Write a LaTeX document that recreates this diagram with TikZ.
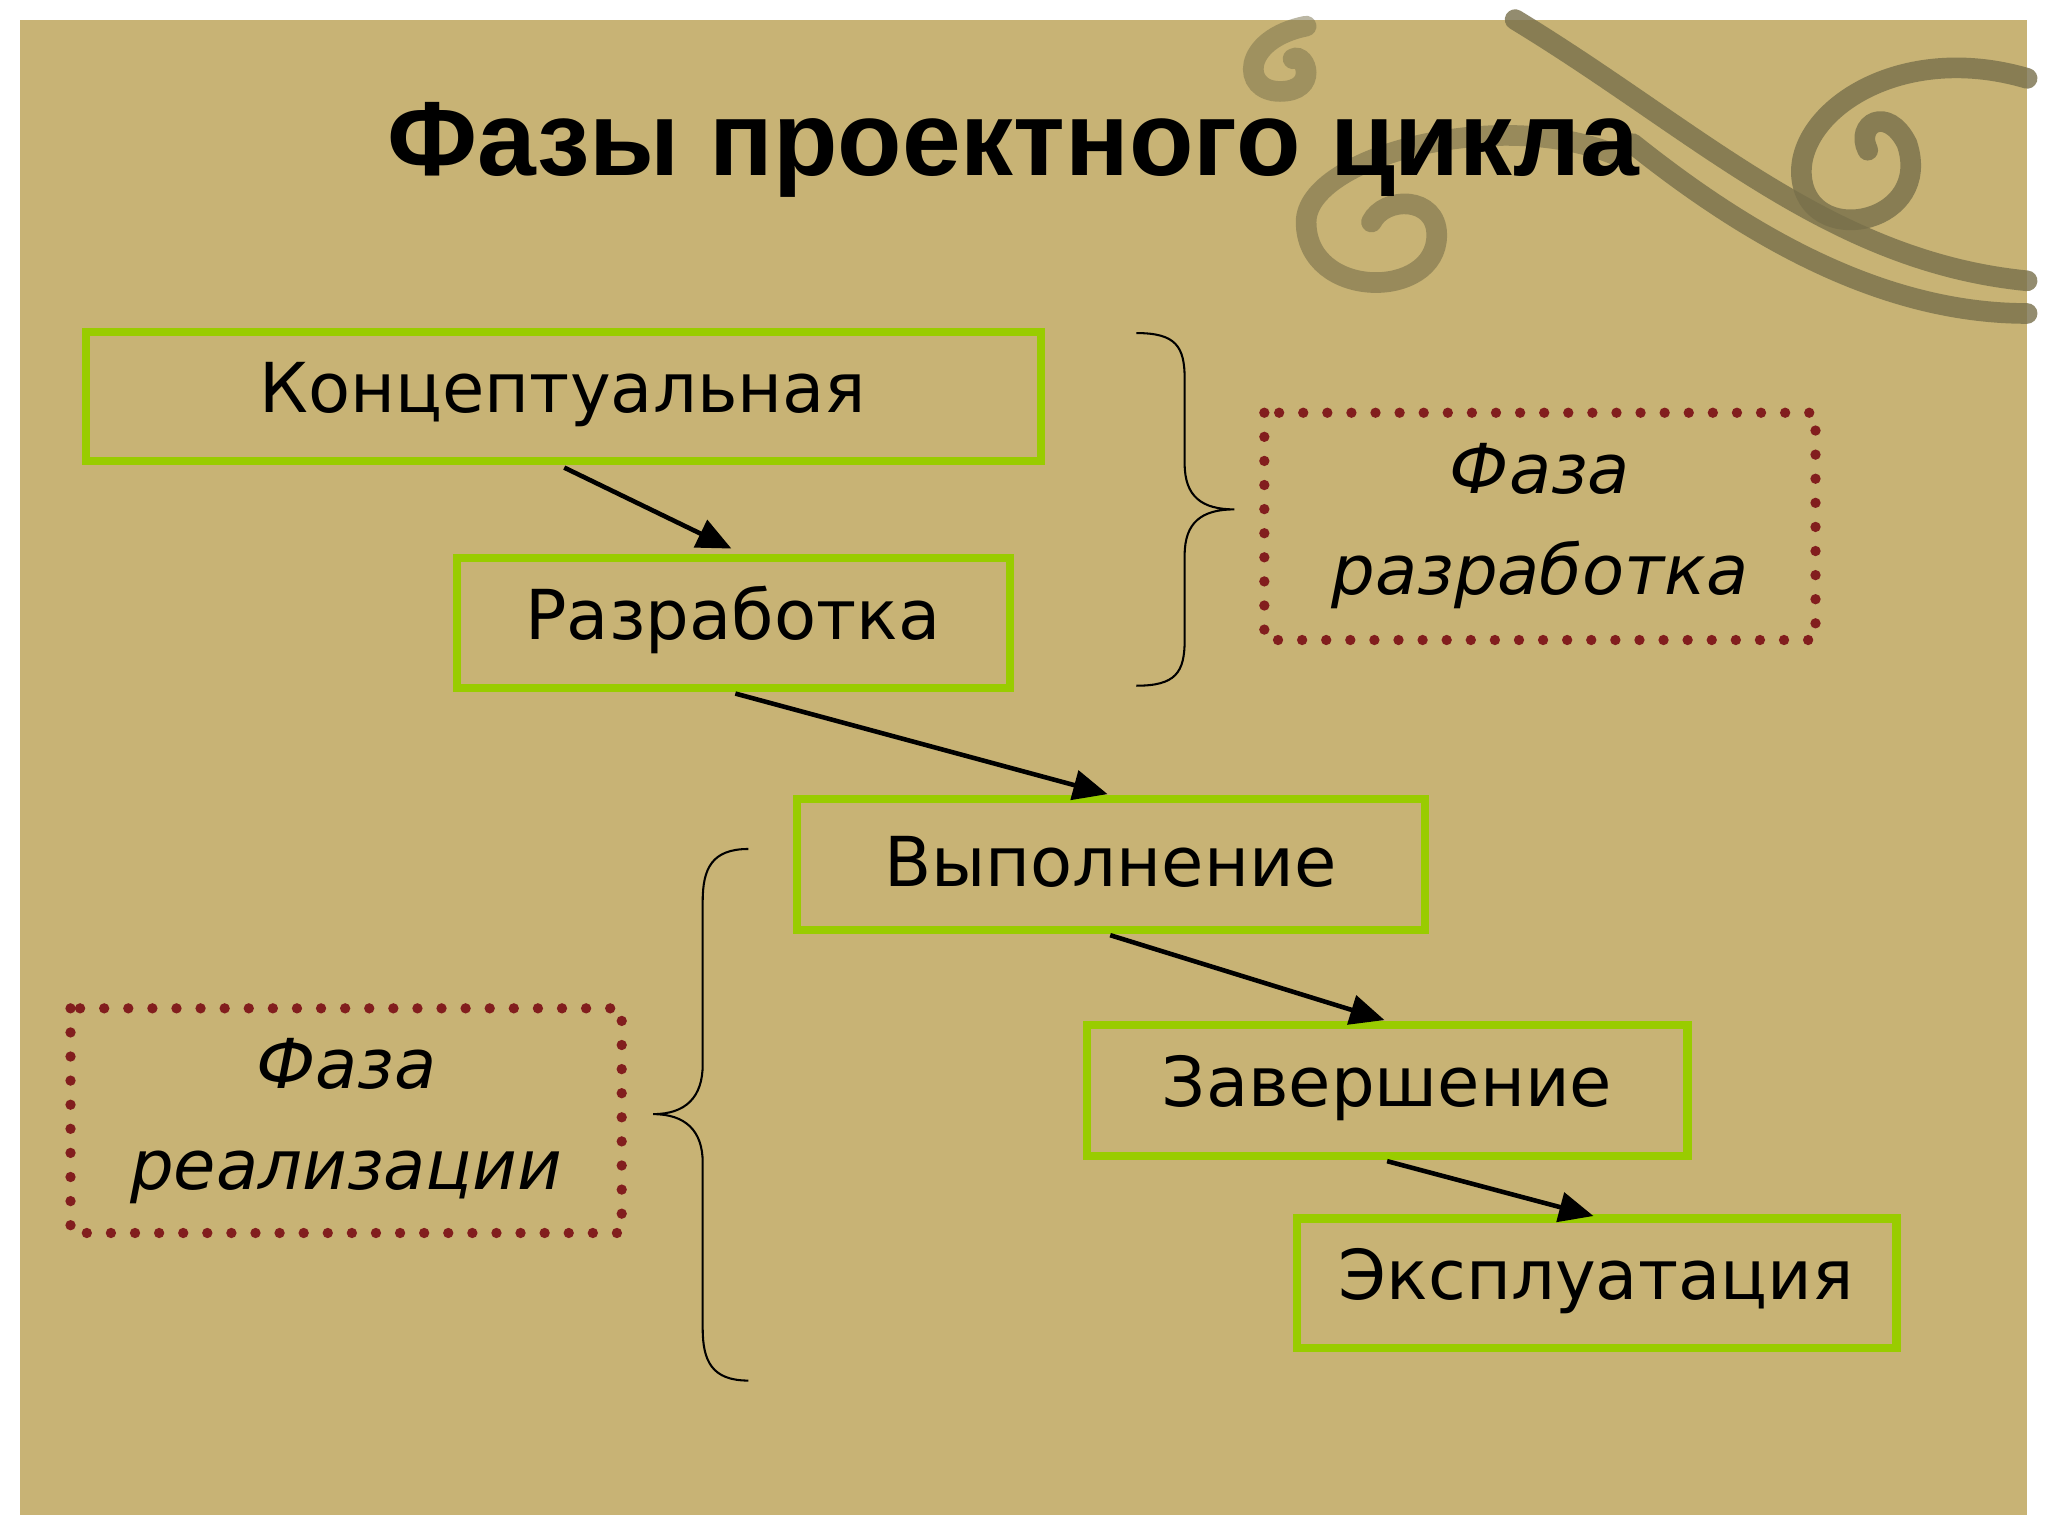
\documentclass[tikz,border=0pt]{standalone}
\usepackage{fontspec}
\setmainfont{DejaVu Sans}
\newfontfamily\titlefont{Liberation Sans}
\usetikzlibrary{arrows.meta}
\definecolor{tan}{RGB}{200,179,117}
\definecolor{gbox}{RGB}{153,204,0}
\definecolor{dred}{RGB}{130,30,30}
\definecolor{swirl}{RGB}{120,112,75}
\tikzset{
 phase/.style={draw=gbox,line width=3.6pt},
 note/.style={draw=dred,line width=4.5pt,dash pattern=on 0pt off 10.5pt,line cap=round},
 arr/.style={-{Triangle[length=15pt,width=13pt]},line width=2pt},
 brc/.style={line width=0.9pt},
 btxt/.style={font=\fontsize{30}{34}\selectfont},
 itxt/.style={font=\fontsize{30}{44}\selectfont\itshape,align=center}
}
\begin{document}
\begin{tikzpicture}[x=0.02cm,y=-0.02cm]
\useasboundingbox (0,0) rectangle (1568,1176);
\fill[white] (0,0) rectangle (1568,1176);
\fill[tan] (15,15) rectangle (1552,1160);
% swirls
\begin{scope}[swirl,line width=9pt,opacity=0.8,line cap=round]
\draw (1160,15) .. controls (1300,100) and (1400,200) .. (1552,215);
\draw (1552,60) .. controls (1450,30) and (1370,90) .. (1380,140) .. controls (1390,190) and (1480,170) .. (1460,110) .. controls (1445,80) and (1420,95) .. (1430,115);
\draw[opacity=0.6] (1240,120) .. controls (1150,80) and (1000,120) .. (1000,170) .. controls (1000,230) and (1100,230) .. (1100,180) .. controls (1100,150) and (1060,150) .. (1050,170);
\draw[opacity=0.5] (1000,20) .. controls (950,30) and (950,70) .. (980,70) .. controls (1010,70) and (1000,40) .. (990,45);
\draw (1250,110) .. controls (1350,190) and (1450,240) .. (1552,240);
\end{scope}
\node[font=\titlefont\bfseries\fontsize{46}{50}\selectfont] (title) at (776,115) {Фазы проектного цикла};
% phase boxes
\draw[phase] (66,254) rectangle (797,353);
\node[btxt] (k) at (431,302) {Концептуальная};
\draw[phase] (350,427) rectangle (773,527);
\node[btxt] (r) at (561,475) {Разработка};
\draw[phase] (610,612) rectangle (1091,712);
\node[btxt] (v) at (850,660) {Выполнение};
\draw[phase] (832,785) rectangle (1292,885);
\node[btxt] (z) at (1062,833) {Завершение};
\draw[phase] (993,933) rectangle (1452,1032);
\node[btxt] (e) at (1222,981) {Эксплуатация};
% notes
\draw[note] (968,316) rectangle (1390,490);
\node[itxt] (fr) at (1179,403) {Фаза\\разработка};
\draw[note] (54,772) rectangle (476,944);
\node[itxt] (fi) at (265,858) {Фаза\\реализации};
% arrows
\coordinate (a1) at (432,358); \coordinate (b1) at (560,420);
\coordinate (a2) at (563,531); \coordinate (b2) at (848,608);
\coordinate (a3) at (850,716); \coordinate (b3) at (1060,781);
\coordinate (a4) at (1062,889); \coordinate (b4) at (1220,931);
\draw[arr] (a1) -- (b1);
\draw[arr] (a2) -- (b2);
\draw[arr] (a3) -- (b3);
\draw[arr] (a4) -- (b4);
% braces
\draw[brc] (870,255) .. controls (900,255) and (907,265) .. (907,290) -- (907,355) .. controls (907,380) and (920,390) .. (945,390)
 .. controls (920,390) and (907,400) .. (907,425) -- (907,490) .. controls (907,515) and (900,525) .. (870,525);
\draw[brc] (573,650) .. controls (545,650) and (538,665) .. (538,690) -- (538,815) .. controls (538,840) and (525,853) .. (500,853)
 .. controls (525,853) and (538,866) .. (538,890) -- (538,1017) .. controls (538,1042) and (545,1057) .. (573,1057);
\end{tikzpicture}
\end{document}
